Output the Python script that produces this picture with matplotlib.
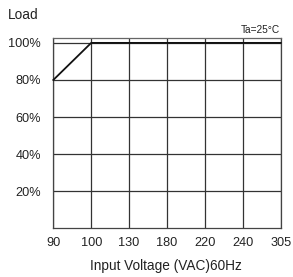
import matplotlib
matplotlib.use("Agg")
import matplotlib.pyplot as plt

plt.rcParams['font.family'] = ['Liberation Sans', 'DejaVu Sans']

x_labels = ["90", "100", "130", "180", "220", "240", "305"]
y_ticks = [20, 40, 60, 80, 100]
y_labels = ["20%", "40%", "60%", "80%", "100%"]
curve_x = [0, 1, 6]
curve_y = [80, 100, 100]

fig = plt.figure(figsize=(2.93, 2.77), dpi=100)
ax = fig.add_axes([53.3/293, 1-228.3/277, (280.7-53.3)/293, (228.3-37.7)/277])
ax.set_xlim(0, 6)
ax.set_ylim(0, 102.8)
ax.set_xticks(range(len(x_labels)))
ax.set_xticklabels(x_labels)
ax.set_yticks(y_ticks)
ax.set_yticklabels(y_labels)
ax.tick_params(length=0, labelsize=9.2, colors='#222222')
ax.tick_params(axis='y', pad=9)
ax.tick_params(axis='x', pad=6)
ax.grid(True, color='#333333', linewidth=0.9)
for s in ax.spines.values():
    s.set_color('#444444')
    s.set_linewidth(0.9)
ax.spines['top'].set_color('#666666')
ax.plot(curve_x, curve_y, color='#111111', linewidth=1.3, zorder=3, clip_on=False)
ax.set_axisbelow(True)

fig.text(8/293, 1-15/277, "Load", fontsize=9.8, color='#222222', va='center', ha='left')
fig.text(280/293, 1-30/277, "Ta=25°C", fontsize=7.3, color='#222222', va='center', ha='right')
fig.text(166/293, 1-266/277, "Input Voltage (VAC)60Hz", fontsize=9.8, color='#222222', va='center', ha='center')

fig.savefig("out.png", dpi=100)
